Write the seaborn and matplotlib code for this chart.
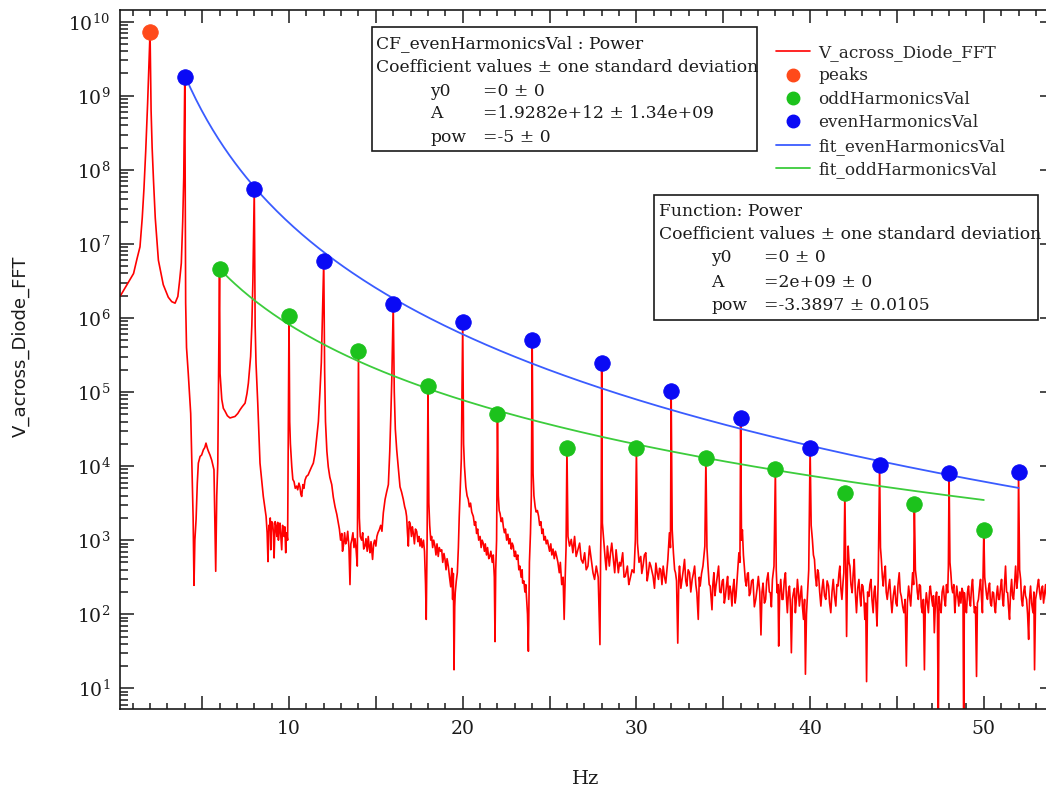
import numpy as np
import pandas as pd
import matplotlib
matplotlib.use("Agg")
import matplotlib.pyplot as plt
from matplotlib.lines import Line2D
from matplotlib.patches import Rectangle
from matplotlib.ticker import LogLocator, MultipleLocator, NullFormatter, FuncFormatter, FixedLocator
import seaborn as sns

# --- DATA ---
# FFT trace, one row per stretch between harmonics: frequency (Hz) and log10(amplitude)
fft_hz_segments = [
    [0.27, 0.6, 0.85, 1.05, 1.25, 1.42, 1.55, 1.65, 1.75, 1.86, 1.93, 2.0, 2.06, 2.12, 2.2, 2.3, 2.48, 2.76, 3.05, 3.25, 3.44, 3.6, 3.7, 3.8, 3.88, 3.94, 4.0],
    [4.05, 4.1, 4.2, 4.34, 4.42, 4.48, 4.53, 4.58, 4.65, 4.72, 4.78, 4.88, 4.97, 5.07, 5.15, 5.22, 5.3, 5.36, 5.45, 5.55, 5.68, 5.73, 5.78, 5.84, 5.9, 6.0],
    [6.03, 6.13, 6.22, 6.32, 6.45, 6.6, 6.75, 6.89, 7.05, 7.18, 7.3, 7.47, 7.58, 7.66, 7.79, 7.86, 7.92, 8.0],
    [8.05, 8.1, 8.2, 8.33, 8.43, 8.52, 8.6, 8.68, 8.74, 8.79, 8.84, 8.87, 8.92, 8.95, 9.0, 9.06, 9.1, 9.14, 9.2, 9.25, 9.3, 9.35, 9.39, 9.44, 9.48, 9.53, 9.58, 9.63, 9.67, 9.72, 9.76, 9.81, 9.86, 9.92, 10.0],
    [10.04, 10.08, 10.16, 10.22, 10.29, 10.36, 10.44, 10.5, 10.57, 10.63, 10.68, 10.73, 10.8, 10.86, 10.92, 11.0, 11.1, 11.17, 11.3, 11.4, 11.5, 11.6, 11.69, 11.78, 11.86, 11.92, 12.0],
    [12.05, 12.1, 12.18, 12.26, 12.35, 12.46, 12.55, 12.65, 12.75, 12.84, 12.9, 12.97, 13.04, 13.08, 13.13, 13.2, 13.26, 13.32, 13.38, 13.45, 13.51, 13.56, 13.61, 13.68, 13.74, 13.8, 13.86, 13.93, 14.0],
    [14.05, 14.1, 14.18, 14.24, 14.3, 14.37, 14.43, 14.5, 14.56, 14.62, 14.66, 14.72, 14.81, 14.87, 14.93, 15.0, 15.06, 15.12, 15.2, 15.28, 15.35, 15.43, 15.53, 15.62, 15.72, 15.8, 15.86, 15.92, 16.0],
    [16.06, 16.12, 16.2, 16.3, 16.39, 16.48, 16.58, 16.66, 16.72, 16.77, 16.82, 16.87, 16.92, 16.97, 17.05, 17.1, 17.16, 17.22, 17.28, 17.35, 17.42, 17.48, 17.54, 17.6, 17.66, 17.74, 17.8, 17.86, 17.9, 17.95, 18.0],
    [18.05, 18.1, 18.16, 18.21, 18.27, 18.33, 18.4, 18.46, 18.52, 18.59, 18.65, 18.72, 18.79, 18.85, 18.92, 18.98, 19.04, 19.1, 19.17, 19.24, 19.31, 19.37, 19.42, 19.46, 19.5, 19.54, 19.57, 19.63, 19.69, 19.75, 19.8, 19.86, 19.92, 20.0],
    [20.05, 20.1, 20.18, 20.25, 20.32, 20.38, 20.45, 20.52, 20.61, 20.68, 20.74, 20.8, 20.86, 20.92, 21.0, 21.06, 21.12, 21.18, 21.25, 21.3, 21.37, 21.43, 21.5, 21.56, 21.62, 21.7, 21.76, 21.82, 21.86, 21.9, 21.95, 22.0],
    [22.05, 22.1, 22.15, 22.22, 22.28, 22.34, 22.4, 22.46, 22.53, 22.6, 22.66, 22.72, 22.8, 22.85, 22.91, 22.98, 23.04, 23.1, 23.17, 23.23, 23.29, 23.36, 23.42, 23.45, 23.52, 23.58, 23.63, 23.68, 23.73, 23.78, 23.84, 23.9, 23.95, 24.0],
    [24.05, 24.1, 24.17, 24.23, 24.3, 24.37, 24.43, 24.5, 24.56, 24.62, 24.68, 24.75, 24.81, 24.88, 24.94, 25.0, 25.07, 25.13, 25.2, 25.27, 25.34, 25.41, 25.48, 25.56, 25.62, 25.7, 25.78, 25.84, 25.9, 25.95, 26.0],
    [26.06, 26.15, 26.25, 26.34, 26.44, 26.53, 26.63, 26.73, 26.82, 26.92, 27.02, 27.11, 27.21, 27.3, 27.4, 27.5, 27.59, 27.69, 27.8, 27.9, 27.94, 27.97, 28.0],
    [28.04, 28.1, 28.19, 28.26, 28.33, 28.44, 28.51, 28.58, 28.67, 28.75, 28.83, 28.96, 29.03, 29.1, 29.21, 29.29, 29.36, 29.48, 29.56, 29.63, 29.75, 29.86, 29.94, 30.0],
    [30.06, 30.15, 30.25, 30.31, 30.38, 30.46, 30.54, 30.62, 30.69, 30.76, 30.83, 30.96, 31.04, 31.12, 31.2, 31.27, 31.33, 31.4, 31.47, 31.54, 31.62, 31.69, 31.81, 31.9, 31.96, 32.0],
    [32.06, 32.13, 32.2, 32.25, 32.31, 32.38, 32.44, 32.48, 32.56, 32.63, 32.7, 32.77, 32.84, 32.9, 32.98, 33.06, 33.13, 33.21, 33.28, 33.35, 33.42, 33.48, 33.56, 33.62, 33.67, 33.75, 33.83, 33.94, 34.0],
    [34.06, 34.12, 34.19, 34.25, 34.35, 34.4, 34.46, 34.52, 34.58, 34.65, 34.73, 34.8, 34.87, 34.94, 35.0, 35.06, 35.12, 35.19, 35.25, 35.31, 35.38, 35.44, 35.5, 35.56, 35.62, 35.68, 35.73, 35.82, 35.9, 35.96, 36.0],
    [36.05, 36.1, 36.16, 36.21, 36.27, 36.33, 36.39, 36.44, 36.5, 36.56, 36.63, 36.71, 36.79, 36.87, 36.95, 37.02, 37.1, 37.17, 37.23, 37.29, 37.37, 37.44, 37.5, 37.58, 37.65, 37.71, 37.77, 37.83, 37.92, 38.0],
    [38.05, 38.1, 38.15, 38.19, 38.25, 38.31, 38.38, 38.44, 38.51, 38.58, 38.63, 38.69, 38.75, 38.81, 38.87, 38.92, 38.98, 39.04, 39.1, 39.15, 39.21, 39.27, 39.33, 39.38, 39.44, 39.5, 39.56, 39.62, 39.68, 39.73, 39.79, 39.85, 39.92, 40.0],
    [40.06, 40.13, 40.19, 40.25, 40.31, 40.37, 40.43, 40.48, 40.55, 40.62, 40.69, 40.75, 40.83, 40.9, 40.98, 41.06, 41.12, 41.19, 41.26, 41.33, 41.4, 41.48, 41.54, 41.6, 41.66, 41.71, 41.77, 41.83, 41.9, 41.94, 42.0],
    [42.06, 42.1, 42.15, 42.19, 42.24, 42.29, 42.35, 42.42, 42.48, 42.54, 42.6, 42.67, 42.74, 42.81, 42.87, 42.92, 42.98, 43.04, 43.1, 43.15, 43.2, 43.25, 43.31, 43.38, 43.44, 43.5, 43.56, 43.63, 43.68, 43.73, 43.79, 43.85, 43.92, 44.0],
    [44.05, 44.1, 44.16, 44.21, 44.27, 44.33, 44.38, 44.44, 44.51, 44.58, 44.65, 44.71, 44.79, 44.87, 44.94, 45.0, 45.06, 45.13, 45.19, 45.25, 45.33, 45.4, 45.47, 45.54, 45.6, 45.67, 45.73, 45.79, 45.85, 45.9, 45.96, 46.0],
    [46.06, 46.12, 46.17, 46.23, 46.29, 46.35, 46.4, 46.46, 46.52, 46.58, 46.63, 46.69, 46.75, 46.81, 46.87, 46.92, 47.0, 47.06, 47.1, 47.15, 47.22, 47.28, 47.33, 47.38, 47.42, 47.48, 47.54, 47.6, 47.67, 47.73, 47.79, 47.85, 47.92, 47.96, 48.0],
    [48.05, 48.1, 48.16, 48.21, 48.27, 48.33, 48.38, 48.44, 48.5, 48.56, 48.62, 48.68, 48.74, 48.8, 48.84, 48.88, 48.94, 49.0, 49.06, 49.12, 49.17, 49.23, 49.29, 49.35, 49.41, 49.46, 49.52, 49.58, 49.63, 49.69, 49.75, 49.81, 49.87, 49.92, 50.0],
    [50.05, 50.1, 50.16, 50.21, 50.27, 50.33, 50.38, 50.44, 50.5, 50.56, 50.62, 50.67, 50.73, 50.79, 50.85, 50.9, 50.96, 51.02, 51.08, 51.13, 51.19, 51.25, 51.31, 51.37, 51.42, 51.48, 51.54, 51.6, 51.65, 51.71, 51.77, 51.83, 51.9, 51.96, 52.0],
    [52.06, 52.12, 52.17, 52.23, 52.29, 52.35, 52.4, 52.46, 52.52, 52.58, 52.63, 52.69, 52.75, 52.83, 52.88, 52.92, 52.98, 53.04, 53.1, 53.15, 53.21, 53.27, 53.33, 53.38, 53.44, 53.5, 53.56, 53.62, 53.7, 53.8, 53.9, 54.1],
]
fft_log_segments = [
    [6.29, 6.42, 6.52, 6.6, 6.8, 6.96, 7.35, 7.75, 8.25, 8.9, 9.4, 9.86, 8.8, 8.3, 7.85, 7.35, 6.78, 6.45, 6.28, 6.22, 6.2, 6.29, 6.5, 6.74, 7.3, 7.9, 9.26],
    [6.2, 5.6, 5.25, 4.71, 3.9, 3.3, 2.39, 3.0, 3.28, 3.77, 4.04, 4.13, 4.15, 4.22, 4.25, 4.31, 4.24, 4.2, 4.15, 4.08, 3.95, 3.3, 2.58, 3.6, 4.04, 6.66],
    [5.25, 4.9, 4.78, 4.74, 4.68, 4.65, 4.66, 4.67, 4.71, 4.76, 4.8, 4.85, 4.98, 5.12, 5.48, 5.9, 6.5, 7.74],
    [5.9, 5.39, 4.85, 4.04, 3.8, 3.59, 3.45, 3.32, 3.1, 2.71, 3.2, 3.14, 3.3, 2.87, 3.25, 3.23, 3.1, 2.76, 3.25, 3.19, 3.05, 3.24, 3.0, 3.15, 3.23, 3.05, 2.87, 3.2, 3.14, 3.05, 3.18, 2.83, 3.1, 3.0, 6.03],
    [4.6, 4.3, 3.99, 3.82, 3.79, 3.7, 3.73, 3.68, 3.77, 3.72, 3.62, 3.59, 3.75, 3.7, 3.81, 3.86, 3.88, 3.92, 3.99, 4.04, 4.17, 4.4, 4.6, 5.0, 5.4, 6.0, 6.77],
    [5.3, 4.6, 4.2, 3.99, 3.85, 3.75, 3.58, 3.45, 3.35, 3.23, 3.15, 3.0, 3.09, 2.85, 2.92, 3.1, 2.95, 3.0, 3.12, 2.9, 2.4, 2.95, 3.0, 3.1, 2.9, 3.02, 2.88, 2.65, 5.56],
    [3.3, 3.05, 3.0, 3.1, 2.88, 2.92, 3.02, 2.85, 3.05, 2.9, 2.83, 2.98, 2.74, 2.95, 3.0, 2.92, 3.05, 3.1, 3.14, 3.2, 3.12, 3.37, 3.55, 3.65, 3.75, 4.2, 4.67, 5.2, 6.19],
    [5.0, 4.5, 4.22, 3.95, 3.72, 3.65, 3.55, 3.45, 3.4, 3.32, 3.1, 2.92, 3.25, 3.23, 3.05, 3.18, 3.09, 2.95, 3.15, 3.12, 2.98, 3.05, 2.92, 3.02, 2.9, 3.0, 2.85, 2.4, 1.93, 3.0, 5.07],
    [3.5, 3.2, 3.0, 3.05, 2.9, 3.0, 2.92, 2.8, 2.95, 2.78, 2.9, 2.85, 2.87, 2.7, 2.82, 2.74, 2.6, 2.75, 2.65, 2.5, 2.37, 2.62, 2.2, 2.55, 1.25, 2.1, 2.29, 2.45, 2.56, 2.9, 3.32, 3.7, 4.1, 5.95],
    [4.3, 4.0, 3.72, 3.6, 3.55, 3.45, 3.5, 3.38, 3.32, 3.2, 3.25, 3.09, 3.15, 3.0, 3.05, 2.9, 3.0, 2.96, 2.85, 2.95, 2.8, 2.9, 2.75, 2.78, 2.85, 2.7, 2.8, 2.5, 1.63, 2.6, 3.0, 4.7],
    [3.6, 3.4, 3.36, 3.25, 3.3, 3.18, 3.1, 3.15, 3.0, 3.08, 2.95, 3.02, 2.88, 2.96, 2.92, 2.78, 2.85, 2.74, 2.8, 2.6, 2.65, 2.5, 2.6, 2.42, 2.45, 2.3, 2.4, 2.2, 2.0, 1.5, 2.7, 3.09, 3.6, 5.7],
    [3.9, 3.6, 3.45, 3.38, 3.4, 3.32, 3.2, 3.25, 3.09, 3.15, 3.0, 3.05, 2.95, 3.0, 2.92, 2.85, 2.95, 2.8, 2.88, 2.75, 2.85, 2.78, 2.7, 2.56, 2.7, 2.4, 2.5, 1.93, 2.5, 2.9, 4.25],
    [3.05, 2.92, 3.01, 2.83, 3.05, 2.78, 2.87, 2.96, 2.74, 2.69, 2.83, 2.6, 2.65, 2.92, 2.74, 2.56, 2.47, 2.65, 2.5, 1.59, 2.83, 3.23, 5.39],
    [3.23, 3.05, 2.78, 2.6, 2.92, 2.65, 2.83, 2.96, 2.74, 2.56, 2.87, 2.56, 2.7, 2.65, 2.83, 2.5, 2.51, 2.65, 2.4, 2.47, 2.6, 2.56, 3.01, 4.24],
    [2.96, 2.7, 2.78, 2.55, 2.65, 2.8, 2.83, 2.45, 2.56, 2.7, 2.65, 2.51, 2.35, 2.69, 2.55, 2.47, 2.62, 2.6, 2.4, 2.65, 2.5, 2.42, 2.74, 3.1, 2.9, 5.02],
    [3.14, 2.83, 2.6, 2.56, 2.45, 1.61, 2.5, 2.65, 2.35, 2.47, 2.6, 2.74, 2.45, 2.38, 2.6, 2.56, 2.3, 2.47, 2.55, 2.65, 2.4, 2.29, 1.93, 2.5, 2.38, 2.55, 2.65, 2.92, 4.11],
    [2.9, 2.65, 2.4, 2.38, 2.06, 2.4, 2.56, 2.25, 2.38, 2.5, 2.65, 2.3, 2.29, 2.45, 2.47, 2.15, 2.24, 2.4, 2.51, 2.2, 2.38, 2.3, 2.11, 2.35, 2.47, 2.15, 2.24, 2.55, 2.83, 2.7, 4.65],
    [3.0, 3.14, 2.8, 2.65, 2.45, 2.38, 2.55, 2.56, 2.25, 2.29, 2.45, 2.47, 2.1, 2.2, 2.35, 2.51, 2.3, 1.72, 2.3, 2.42, 2.15, 2.2, 2.45, 2.56, 2.3, 2.29, 2.1, 2.47, 2.65, 3.96],
    [2.6, 2.29, 2.4, 1.57, 2.3, 2.47, 2.2, 2.2, 2.45, 2.56, 2.25, 2.02, 2.3, 2.38, 2.1, 1.48, 2.2, 2.29, 2.35, 2.02, 2.2, 2.47, 2.3, 2.11, 2.25, 2.38, 2.1, 1.93, 2.2, 1.19, 2.0, 2.29, 2.6, 4.25],
    [3.2, 3.01, 2.8, 2.74, 2.5, 2.38, 2.6, 2.56, 2.3, 2.11, 2.35, 2.47, 2.25, 2.2, 2.45, 2.38, 2.15, 2.02, 2.3, 2.47, 2.25, 2.11, 2.4, 2.38, 2.55, 2.65, 2.35, 2.2, 2.45, 2.56, 3.63],
    [2.4, 1.7, 2.6, 2.92, 2.7, 2.65, 2.4, 2.29, 2.55, 2.74, 2.3, 2.02, 2.35, 2.47, 2.25, 2.11, 2.4, 2.38, 2.2, 1.93, 2.15, 1.09, 2.3, 2.24, 2.4, 2.47, 2.2, 2.02, 2.3, 2.38, 2.15, 1.84, 2.47, 4.01],
    [2.9, 2.74, 2.5, 2.38, 2.55, 2.65, 2.3, 2.2, 2.35, 2.47, 2.2, 2.02, 2.25, 2.38, 2.15, 2.11, 2.4, 2.56, 2.3, 2.24, 2.1, 2.02, 2.2, 1.3, 2.15, 2.38, 2.25, 2.11, 2.35, 2.56, 2.4, 3.49],
    [2.6, 2.47, 2.3, 2.2, 2.4, 2.38, 2.1, 2.02, 2.2, 1.25, 2.1, 2.29, 2.15, 2.02, 2.3, 2.38, 2.2, 2.11, 2.25, 1.75, 2.2, 2.3, 2.0, 0.3, 2.24, 2.1, 2.02, 2.3, 2.38, 2.2, 2.11, 2.4, 2.29, 2.65, 3.9],
    [2.7, 2.56, 2.35, 2.29, 2.4, 2.02, 2.2, 2.38, 2.25, 2.11, 2.3, 2.15, 2.35, 2.3, 0.3, 2.29, 2.1, 2.02, 2.3, 2.38, 2.2, 2.11, 2.35, 2.47, 2.2, 2.02, 2.1, 1.16, 2.15, 2.2, 2.35, 2.47, 2.2, 2.02, 3.14],
    [2.5, 2.38, 2.25, 2.2, 2.35, 2.42, 2.15, 2.11, 2.3, 2.29, 2.1, 2.02, 2.25, 2.38, 2.2, 2.2, 2.35, 2.47, 2.2, 2.11, 2.4, 2.65, 2.3, 2.29, 2.1, 1.93, 2.3, 2.47, 2.25, 2.2, 2.4, 2.65, 2.35, 2.5, 3.91],
    [2.6, 2.47, 2.2, 2.11, 2.3, 2.38, 2.25, 2.2, 2.0, 1.66, 2.2, 2.38, 2.15, 2.02, 2.3, 1.25, 2.2, 2.29, 2.4, 2.47, 2.3, 2.2, 2.35, 2.38, 2.15, 2.29, 2.4, 2.2, 2.3, 2.25, 2.35, 2.3],
]

peak_hz = [2]
peak_val = [7.2e9]
even_hz = [4, 8, 12, 16, 20, 24, 28, 32, 36, 40, 44, 48, 52]
even_val = [1.81e9, 5.5e7, 5.9e6, 1.55e6, 8.9e5, 5.06e5, 2.45e5, 1.04e5, 4.44e4, 1.78e4, 1.02e4, 8.0e3, 8.2e3]
odd_hz = [6, 10, 14, 18, 22, 26, 30, 34, 38, 42, 46, 50]
odd_val = [4.56e6, 1.07e6, 3.6e5, 1.19e5, 5.03e4, 1.78e4, 1.75e4, 1.28e4, 9.1e3, 4.3e3, 3.1e3, 1.38e3]

# power-law fits y = y0 + A * x^pow, coefficients as printed on the chart
fit_even = {"y0": 0.0, "A": 1.9282e12, "pow": -5.0, "x0": 4, "x1": 52}
fit_odd = {"y0": 0.0, "A": 2e9, "pow": -3.3897, "x0": 6, "x1": 50}

y_decades = [1e1, 1e2, 1e3, 1e4, 1e5, 1e6, 1e7, 1e8, 1e9, 1e10]
legend_labels = ["V_across_Diode_FFT", "peaks", "oddHarmonicsVal", "evenHarmonicsVal",
                 "fit_evenHarmonicsVal", "fit_oddHarmonicsVal"]
box_even_lines = ["CF_evenHarmonicsVal : Power", "Coefficient values \u00b1 one standard deviation"]
box_even_coefs = [("y0", "=0 \u00b1 0"), ("A", "=1.9282e+12 \u00b1 1.34e+09"), ("pow", "=-5 \u00b1 0")]
box_odd_lines = ["Function: Power", "Coefficient values \u00b1 one standard deviation"]
box_odd_coefs = [("y0", "=0 \u00b1 0"), ("A", "=2e+09 \u00b1 0"), ("pow", "=-3.3897 \u00b1 0.0105")]

# --- STYLE ---
W, H = 1046, 793
RED = "#ff0000"
ORANGE = "#ff4a1a"
GREEN = "#1cc21c"
BLUE = "#0a0af5"
FIT_BLUE = "#3a5cff"
FIT_GREEN = "#3ccc3c"
INK = "#1a1a1a"
SERIF = "DejaVu Serif"
BOX_FS = 12.3

sns.set_style("ticks")
plt.rcParams["font.family"] = [SERIF]
plt.rcParams["mathtext.default"] = "regular"


def fx(px):
    return px / W


def fy(py):
    return 1 - py / H


for a, b in zip(fft_hz_segments, fft_log_segments):
    assert len(a) == len(b), (a[0], len(a), len(b))

fft = pd.DataFrame({
    "Hz": np.concatenate(fft_hz_segments),
    "V": 10 ** np.concatenate(fft_log_segments),
})


def fit_frame(fit):
    x = np.linspace(fit["x0"], fit["x1"], 300)
    return pd.DataFrame({"Hz": x, "V": fit["y0"] + fit["A"] * x ** fit["pow"]})


fig = plt.figure(figsize=(W / 100, H / 100), dpi=100)
ax = fig.add_axes([fx(120), fy(709), fx(1054) - fx(120), fy(10) - fy(709)])
ax.set_yscale("log")

sns.lineplot(data=fft, x="Hz", y="V", color=RED, lw=1.2, estimator=None, sort=False,
             ax=ax, zorder=2)
sns.lineplot(data=fit_frame(fit_even), x="Hz", y="V", color=FIT_BLUE, lw=1.3,
             estimator=None, sort=False, ax=ax, zorder=3)
sns.lineplot(data=fit_frame(fit_odd), x="Hz", y="V", color=FIT_GREEN, lw=1.3,
             estimator=None, sort=False, ax=ax, zorder=3)
for xs, ys, col in [(peak_hz, peak_val, ORANGE), (odd_hz, odd_val, GREEN), (even_hz, even_val, BLUE)]:
    sns.scatterplot(x=xs, y=ys, color=col, s=125, edgecolor=col, linewidth=0.6,
                    ax=ax, zorder=4, legend=False)

ax.set_xlim(0.27, 54.04)
ax.set_ylim(5.25, 1.44e10)

# axes frame and ticks
for side in ["left", "bottom", "top"]:
    ax.spines[side].set_linewidth(1.2)
    ax.spines[side].set_color(INK)
ax.spines["right"].set_visible(False)

ax.yaxis.set_major_locator(FixedLocator(y_decades))
ax.yaxis.set_minor_locator(LogLocator(base=10, subs=np.arange(2, 10), numticks=20))
ax.yaxis.set_minor_formatter(NullFormatter())
ax.xaxis.set_major_locator(MultipleLocator(5))
ax.xaxis.set_minor_locator(MultipleLocator(1))
ax.xaxis.set_major_formatter(FuncFormatter(lambda v, p: f"{v:.0f}" if v % 10 == 0 else ""))

ax.tick_params(which="both", direction="in", top=True, right=True, colors=INK, width=1.1)
ax.tick_params(axis="y", which="major", length=10, pad=7, labelsize=13.5)
ax.tick_params(axis="y", which="minor", length=6)
ax.tick_params(axis="x", which="major", length=9.5, pad=8, labelsize=13.5)
ax.tick_params(axis="x", which="minor", length=4.3)
for tick in ax.xaxis.get_major_ticks():
    v = tick.get_loc()
    if v % 10 != 0:
        tick.tick1line.set_markersize(6.5)
        tick.tick2line.set_markersize(4)

ax.set_xlabel("Hz", fontsize=14, color=INK)
ax.xaxis.set_label_coords((586 - 120) / 934, (709 - 770) / 699)
ax.set_ylabel("V_across_Diode_FFT", fontsize=13, fontfamily="DejaVu Sans", color=INK)
ax.yaxis.set_label_coords((30 - 120) / 934, (709 - 346) / 699)

# legend
handles = [
    Line2D([], [], color=RED, lw=1.2),
    Line2D([], [], color=ORANGE, marker="o", ls="", markersize=9),
    Line2D([], [], color=GREEN, marker="o", ls="", markersize=9),
    Line2D([], [], color=BLUE, marker="o", ls="", markersize=9),
    Line2D([], [], color=FIT_BLUE, lw=1.3),
    Line2D([], [], color=FIT_GREEN, lw=1.3),
]
ax.legend(handles, legend_labels, loc="upper left", bbox_to_anchor=(fx(776), fy(44)),
          bbox_transform=fig.transFigure, frameon=False, fontsize=12.2, borderpad=0,
          borderaxespad=0, handlelength=2.0, handletextpad=0.5, labelspacing=0.38)


# coefficient boxes
def coef_box(left, top, right, bottom, title_x, col1_x, col2_x, rows_y, lines, coefs):
    fig.add_artist(Rectangle((fx(left), fy(bottom)), fx(right) - fx(left), fy(top) - fy(bottom),
                             transform=fig.transFigure, fill=False, edgecolor=INK, lw=1.2))
    for s, y in zip(lines, rows_y):
        fig.text(fx(title_x), fy(y), s, fontsize=BOX_FS, va="center", ha="left", color=INK)
    for (name, val), y in zip(coefs, rows_y[len(lines):]):
        fig.text(fx(col1_x), fy(y), name, fontsize=BOX_FS, va="center", ha="left", color=INK)
        fig.text(fx(col2_x), fy(y), val, fontsize=BOX_FS, va="center", ha="left", color=INK)


coef_box(372, 27, 757, 151, 376, 430, 483, [44, 68, 91, 114, 137], box_even_lines, box_even_coefs)
coef_box(654, 195, 1038, 320, 659, 711, 764, [211, 235, 258, 282, 305], box_odd_lines, box_odd_coefs)

fig.savefig("out.png", dpi=100)
